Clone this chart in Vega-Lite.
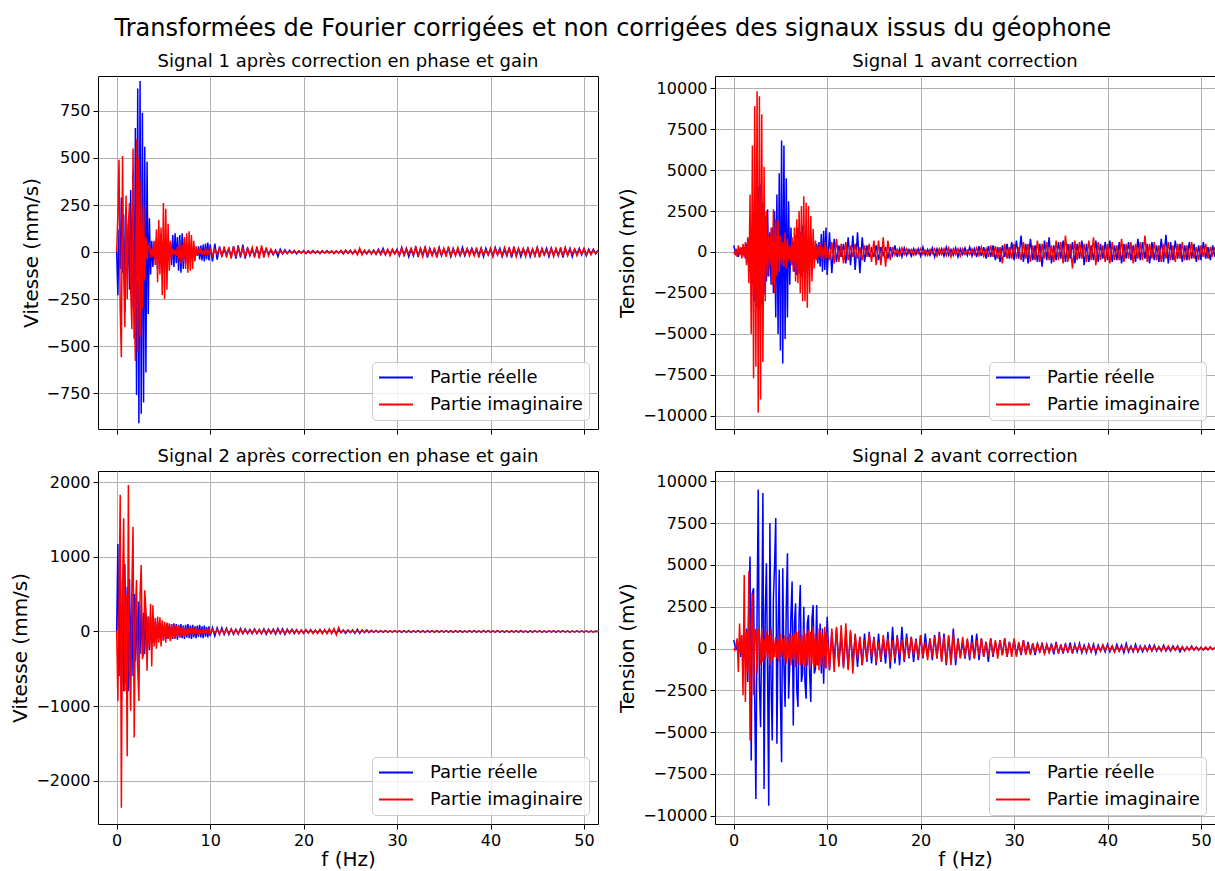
{
"$schema": "https://vega.github.io/schema/vega-lite/v6.json",
"background": "white",
"padding": {"left": 10, "top": 16, "right": 0, "bottom": 0},
"title": {"text": "Transformées de Fourier corrigées et non corrigées des signaux issus du géophone", "fontSize": 24, "font": "DejaVu Sans", "fontWeight": "normal", "anchor": "middle", "offset": 12, "color": "black"},
"datasets": {"fft": [
{"f":0,"ra":0,"ia":0,"rb":400,"ib":0,"rc":0,"ic":0,"rd":500,"id":0},
{"f":0.125,"ra":-230,"ia":200,"rb":100,"ib":-100,"rc":1170,"ic":-930,"rd":200,"id":-100},
{"f":0.25,"ra":120,"ia":490,"rb":-200,"ib":200,"rc":-600,"ic":300,"rd":-100,"id":200},
{"f":0.375,"ra":-90,"ia":-300,"rb":150,"ib":-300,"rc":800,"ic":1830,"rd":300,"id":600},
{"f":0.5,"ra":290,"ia":-560,"rb":-300,"ib":400,"rc":-900,"ic":-2360,"rd":-200,"id":-1400},
{"f":0.625,"ra":-110,"ia":510,"rb":200,"ib":-200,"rc":700,"ic":600,"rd":400,"id":1500},
{"f":0.75,"ra":200,"ia":-100,"rb":-100,"ib":300,"rc":-800,"ic":1515,"rd":-500,"id":-300},
{"f":0.875,"ra":-320,"ia":-400,"rb":250,"ib":-400,"rc":900,"ic":-800,"rd":300,"id":800},
{"f":1,"ra":240,"ia":300,"rb":-200,"ib":500,"rc":-700,"ic":500,"rd":-200,"id":-2800},
{"f":1.125,"ra":-120,"ia":-250,"rb":300,"ib":-300,"rc":600,"ic":-1670,"rd":600,"id":4400},
{"f":1.25,"ra":150,"ia":150,"rb":-400,"ib":600,"rc":-800,"ic":1960,"rd":-800,"id":-3200},
{"f":1.375,"ra":-200,"ia":260,"rb":500,"ib":-800,"rc":700,"ic":-500,"rd":1200,"id":1000},
{"f":1.5,"ra":330,"ia":-200,"rb":-600,"ib":900,"rc":-600,"ic":-1060,"rd":-2000,"id":-1500},
{"f":1.625,"ra":-300,"ia":-410,"rb":800,"ib":-1900,"rc":500,"ic":600,"rd":3000,"id":4600},
{"f":1.75,"ra":420,"ia":550,"rb":-1200,"ib":3500,"rc":-600,"ic":1400,"rd":5500,"id":-5500},
{"f":1.875,"ra":-460,"ia":-280,"rb":1500,"ib":-5000,"rc":500,"ic":-1420,"rd":-6700,"id":1500},
{"f":2,"ra":660,"ia":-580,"rb":-2000,"ib":6500,"rc":-400,"ic":300,"rd":3300,"id":3300},
{"f":2.125,"ra":-760,"ia":600,"rb":2500,"ib":-7700,"rc":400,"ic":690,"rd":3600,"id":-2800},
{"f":2.25,"ra":870,"ia":-530,"rb":-3000,"ib":8900,"rc":-500,"ic":-500,"rd":-3000,"id":1200},
{"f":2.375,"ra":-910,"ia":500,"rb":3300,"ib":-7000,"rc":400,"ic":-930,"rd":-9000,"id":1000},
{"f":2.5,"ra":910,"ia":-450,"rb":-3400,"ib":9800,"rc":-300,"ic":500,"rd":2000,"id":-1500},
{"f":2.625,"ra":-860,"ia":380,"rb":4000,"ib":-9800,"rc":350,"ic":890,"rd":9500,"id":1200},
{"f":2.75,"ra":740,"ia":-300,"rb":-3500,"ib":9500,"rc":-300,"ic":-370,"rd":-2000,"id":800},
{"f":2.875,"ra":-800,"ia":250,"rb":4100,"ib":-9000,"rc":250,"ic":-300,"rd":-4700,"id":-1000},
{"f":3,"ra":560,"ia":-150,"rb":-3200,"ib":8400,"rc":-300,"ic":550,"rd":1000,"id":1200},
{"f":3.125,"ra":-640,"ia":80,"rb":3000,"ib":-6700,"rc":250,"ic":300,"rd":9300,"id":-800},
{"f":3.25,"ra":480,"ia":-40,"rb":-2600,"ib":5200,"rc":-200,"ic":-525,"rd":-8400,"id":600},
{"f":3.375,"ra":-330,"ia":30,"rb":2200,"ib":-3000,"rc":200,"ic":200,"rd":2000,"id":-700},
{"f":3.5,"ra":180,"ia":40,"rb":-1800,"ib":2500,"rc":-250,"ic":-200,"rd":5100,"id":1000},
{"f":3.625,"ra":-120,"ia":-30,"rb":2600,"ib":-1500,"rc":200,"ic":370,"rd":-1500,"id":-600},
{"f":3.75,"ra":60,"ia":20,"rb":-1500,"ib":1000,"rc":-150,"ic":-470,"rd":-9400,"id":800},
{"f":3.875,"ra":-80,"ia":-25,"rb":1200,"ib":-800,"rc":180,"ic":350,"rd":7500,"id":-1000},
{"f":4,"ra":50,"ia":60,"rb":-2000,"ib":1500,"rc":-150,"ic":-200,"rd":-2000,"id":1200},
{"f":4.125,"ra":-40,"ia":-70,"rb":1500,"ib":-2000,"rc":120,"ic":180,"rd":-5500,"id":-700},
{"f":4.25,"ra":70,"ia":120,"rb":-2500,"ib":2600,"rc":-150,"ic":-230,"rd":3000,"id":600},
{"f":4.375,"ra":-90,"ia":-160,"rb":2500,"ib":-2500,"rc":130,"ic":200,"rd":5000,"id":-500},
{"f":4.5,"ra":60,"ia":170,"rb":-4000,"ib":2000,"rc":-100,"ic":-150,"rd":7800,"id":700},
{"f":4.625,"ra":-50,"ia":-120,"rb":3500,"ib":-1500,"rc":120,"ic":190,"rd":-5700,"id":-600},
{"f":4.75,"ra":100,"ia":130,"rb":-5000,"ib":1900,"rc":-110,"ic":-200,"rd":1000,"id":500},
{"f":4.875,"ra":-110,"ia":-230,"rb":4800,"ib":-1200,"rc":100,"ic":150,"rd":4700,"id":-800},
{"f":5,"ra":60,"ia":260,"rb":-6000,"ib":1000,"rc":-120,"ic":-120,"rd":-3000,"id":900},
{"f":5.125,"ra":-60,"ia":-250,"rb":6800,"ib":-800,"rc":90,"ic":130,"rd":-6800,"id":-500},
{"f":5.25,"ra":40,"ia":230,"rb":-6800,"ib":600,"rc":-100,"ic":-150,"rd":4800,"id":600},
{"f":5.375,"ra":-30,"ia":-200,"rb":6500,"ib":-900,"rc":110,"ic":120,"rd":-1000,"id":-700},
{"f":5.5,"ra":20,"ia":150,"rb":-5300,"ib":1200,"rc":-100,"ic":-100,"rd":-3500,"id":800},
{"f":5.625,"ra":-40,"ia":-100,"rb":4500,"ib":-1000,"rc":90,"ic":110,"rd":2500,"id":-900},
{"f":5.75,"ra":50,"ia":60,"rb":-4000,"ib":800,"rc":-110,"ic":-130,"rd":5700,"id":700},
{"f":5.875,"ra":-70,"ia":-30,"rb":3100,"ib":-500,"rc":100,"ic":100,"rd":-3000,"id":-600},
{"f":6,"ra":90,"ia":20,"rb":-2000,"ib":400,"rc":-100,"ic":-80,"rd":-1000,"id":900},
{"f":6.125,"ra":-80,"ia":-15,"rb":1500,"ib":-600,"rc":110,"ic":90,"rd":2000,"id":-1000},
{"f":6.25,"ra":100,"ia":10,"rb":-800,"ib":900,"rc":-90,"ic":-100,"rd":4000,"id":800},
{"f":6.375,"ra":-60,"ia":-20,"rb":600,"ib":-1200,"rc":100,"ic":80,"rd":-4600,"id":-700},
{"f":6.5,"ra":80,"ia":30,"rb":-1200,"ib":1500,"rc":-110,"ic":-70,"rd":1500,"id":900},
{"f":6.625,"ra":-100,"ia":-40,"rb":1000,"ib":-1800,"rc":90,"ic":75,"rd":2700,"id":-1100},
{"f":6.75,"ra":90,"ia":50,"rb":-1400,"ib":2000,"rc":-80,"ic":-80,"rd":-2500,"id":1000},
{"f":6.875,"ra":-110,"ia":-60,"rb":1500,"ib":-1900,"rc":100,"ic":60,"rd":-3500,"id":-900},
{"f":7,"ra":100,"ia":40,"rb":-1300,"ib":2500,"rc":-90,"ic":-55,"rd":2000,"id":1100},
{"f":7.125,"ra":-90,"ia":-50,"rb":1200,"ib":-2500,"rc":80,"ic":60,"rd":3800,"id":-1000},
{"f":7.25,"ra":70,"ia":80,"rb":-1500,"ib":2800,"rc":-100,"ic":-65,"rd":-2000,"id":800},
{"f":7.375,"ra":-60,"ia":-90,"rb":1600,"ib":-3000,"rc":90,"ic":50,"rd":-1500,"id":-900},
{"f":7.5,"ra":40,"ia":100,"rb":-1200,"ib":3400,"rc":-80,"ic":-45,"rd":2500,"id":1200},
{"f":7.625,"ra":-30,"ia":-110,"rb":1000,"ib":-3000,"rc":100,"ic":50,"rd":-2000,"id":-1100},
{"f":7.75,"ra":20,"ia":110,"rb":-800,"ib":3000,"rc":-90,"ic":-55,"rd":-3000,"id":900},
{"f":7.875,"ra":-25,"ia":-100,"rb":700,"ib":-3400,"rc":80,"ic":45,"rd":1500,"id":-1000},
{"f":8,"ra":15,"ia":90,"rb":-500,"ib":2800,"rc":-100,"ic":-40,"rd":2000,"id":1100},
{"f":8.125,"ra":-20,"ia":-90,"rb":400,"ib":-2500,"rc":90,"ic":45,"rd":-1500,"id":-1200},
{"f":8.25,"ra":25,"ia":60,"rb":-600,"ib":2200,"rc":-80,"ic":-50,"rd":-3200,"id":1000},
{"f":8.375,"ra":-15,"ia":-50,"rb":500,"ib":-1800,"rc":70,"ic":40,"rd":1800,"id":-900},
{"f":8.5,"ra":10,"ia":30,"rb":-300,"ib":1400,"rc":-90,"ic":-35,"rd":2600,"id":1300},
{"f":8.625,"ra":-20,"ia":-20,"rb":200,"ib":-1000,"rc":80,"ic":40,"rd":-1500,"id":-1100},
{"f":8.75,"ra":30,"ia":15,"rb":-400,"ib":700,"rc":-70,"ic":-45,"rd":-1200,"id":900},
{"f":8.875,"ra":-40,"ia":-10,"rb":500,"ib":-500,"rc":90,"ic":35,"rd":2600,"id":-1000},
{"f":9,"ra":35,"ia":20,"rb":-700,"ib":400,"rc":-80,"ic":-30,"rd":-1000,"id":1200},
{"f":9.125,"ra":-45,"ia":-15,"rb":600,"ib":-300,"rc":70,"ic":35,"rd":-800,"id":-1300},
{"f":9.25,"ra":40,"ia":10,"rb":-900,"ib":500,"rc":-90,"ic":-40,"rd":1500,"id":1100},
{"f":9.375,"ra":-50,"ia":-15,"rb":1100,"ib":-400,"rc":80,"ic":30,"rd":-1500,"id":-1000},
{"f":9.5,"ra":45,"ia":20,"rb":-1200,"ib":300,"rc":-70,"ic":-30,"rd":1200,"id":900},
{"f":9.625,"ra":-40,"ia":-15,"rb":1300,"ib":-500,"rc":60,"ic":35,"rd":-2100,"id":-1200},
{"f":9.75,"ra":50,"ia":10,"rb":-1100,"ib":600,"rc":-80,"ic":-35,"rd":1000,"id":1300},
{"f":9.875,"ra":-45,"ia":-10,"rb":1500,"ib":-400,"rc":70,"ic":30,"rd":-1200,"id":-1100},
{"f":10,"ra":40,"ia":15,"rb":-1400,"ib":300,"rc":-60,"ic":-25,"rd":1900,"id":1000},
{"f":10.25,"ra":-50,"ia":-20,"rb":1200,"ib":-500,"rc":50,"ic":30,"rd":-1300,"id":-1300},
{"f":10.5,"ra":45,"ia":15,"rb":-1300,"ib":600,"rc":-60,"ic":-25,"rd":1000,"id":1200},
{"f":10.75,"ra":-40,"ia":-10,"rb":800,"ib":-700,"rc":50,"ic":30,"rd":-800,"id":-1400},
{"f":11,"ra":30,"ia":20,"rb":-600,"ib":800,"rc":-40,"ic":-30,"rd":1200,"id":1300},
{"f":11.25,"ra":-20,"ia":-25,"rb":400,"ib":-600,"rc":50,"ic":25,"rd":-1000,"id":-1100},
{"f":11.5,"ra":15,"ia":30,"rb":-300,"ib":500,"rc":-40,"ic":-30,"rd":800,"id":1400},
{"f":11.75,"ra":-10,"ia":-30,"rb":500,"ib":-700,"rc":45,"ic":30,"rd":-1100,"id":-1200},
{"f":12,"ra":20,"ia":25,"rb":-700,"ib":600,"rc":-40,"ic":-25,"rd":900,"id":1500},
{"f":12.25,"ra":-25,"ia":-35,"rb":900,"ib":-500,"rc":35,"ic":30,"rd":-1200,"id":-1300},
{"f":12.5,"ra":30,"ia":30,"rb":-800,"ib":400,"rc":-40,"ic":-30,"rd":1000,"id":1100},
{"f":12.75,"ra":-35,"ia":-25,"rb":1000,"ib":-300,"rc":30,"ic":25,"rd":-900,"id":-1500},
{"f":13,"ra":35,"ia":20,"rb":-1100,"ib":500,"rc":-35,"ic":-25,"rd":800,"id":900},
{"f":13.25,"ra":-30,"ia":-15,"rb":1200,"ib":-400,"rc":40,"ic":30,"rd":-1100,"id":-600},
{"f":13.5,"ra":40,"ia":20,"rb":-1300,"ib":300,"rc":-30,"ic":-25,"rd":700,"id":700},
{"f":13.75,"ra":-35,"ia":-25,"rb":900,"ib":-500,"rc":35,"ic":20,"rd":-1000,"id":-1000},
{"f":14,"ra":25,"ia":20,"rb":-600,"ib":400,"rc":-30,"ic":-25,"rd":900,"id":500},
{"f":14.25,"ra":-20,"ia":-15,"rb":400,"ib":-300,"rc":25,"ic":25,"rd":-800,"id":-700},
{"f":14.5,"ra":15,"ia":25,"rb":-300,"ib":500,"rc":-30,"ic":-20,"rd":1000,"id":900},
{"f":14.75,"ra":-20,"ia":-30,"rb":200,"ib":-600,"rc":35,"ic":25,"rd":-900,"id":-500},
{"f":15,"ra":20,"ia":30,"rb":-300,"ib":700,"rc":-30,"ic":-25,"rd":700,"id":600},
{"f":15.25,"ra":-15,"ia":-35,"rb":400,"ib":-800,"rc":25,"ic":20,"rd":-1000,"id":-800},
{"f":15.5,"ra":20,"ia":35,"rb":-500,"ib":700,"rc":-30,"ic":-25,"rd":900,"id":400},
{"f":15.75,"ra":-10,"ia":-30,"rb":300,"ib":-800,"rc":35,"ic":25,"rd":-800,"id":-700},
{"f":16,"ra":15,"ia":25,"rb":-200,"ib":900,"rc":-40,"ic":-20,"rd":600,"id":800},
{"f":16.25,"ra":-10,"ia":-20,"rb":300,"ib":-900,"rc":30,"ic":25,"rd":-900,"id":-400},
{"f":16.5,"ra":10,"ia":15,"rb":-400,"ib":700,"rc":-25,"ic":-25,"rd":1000,"id":600},
{"f":16.75,"ra":-15,"ia":-10,"rb":300,"ib":-500,"rc":30,"ic":20,"rd":-1200,"id":-800},
{"f":17,"ra":10,"ia":8,"rb":-200,"ib":300,"rc":-35,"ic":-20,"rd":1300,"id":500},
{"f":17.25,"ra":-25,"ia":-6,"rb":400,"ib":-200,"rc":40,"ic":25,"rd":-900,"id":-600},
{"f":17.5,"ra":15,"ia":5,"rb":-300,"ib":150,"rc":-30,"ic":-20,"rd":800,"id":700},
{"f":17.75,"ra":-10,"ia":-8,"rb":200,"ib":-200,"rc":35,"ic":20,"rd":-1000,"id":-400},
{"f":18,"ra":12,"ia":6,"rb":-300,"ib":250,"rc":-40,"ic":-25,"rd":1300,"id":500},
{"f":18.25,"ra":-8,"ia":-5,"rb":250,"ib":-150,"rc":30,"ic":20,"rd":-800,"id":-700},
{"f":18.5,"ra":10,"ia":4,"rb":-200,"ib":200,"rc":-25,"ic":-20,"rd":900,"id":600},
{"f":18.75,"ra":-6,"ia":-6,"rb":150,"ib":-100,"rc":30,"ic":25,"rd":-600,"id":-500},
{"f":19,"ra":8,"ia":5,"rb":-250,"ib":150,"rc":-30,"ic":-20,"rd":700,"id":700},
{"f":19.25,"ra":-10,"ia":-4,"rb":200,"ib":-200,"rc":25,"ic":20,"rd":-800,"id":-400},
{"f":19.5,"ra":6,"ia":6,"rb":-150,"ib":150,"rc":-25,"ic":-25,"rd":600,"id":500},
{"f":19.75,"ra":-5,"ia":-5,"rb":200,"ib":-100,"rc":20,"ic":20,"rd":-700,"id":-600},
{"f":20,"ra":7,"ia":4,"rb":-250,"ib":200,"rc":-25,"ic":-20,"rd":800,"id":800},
{"f":20.25,"ra":-8,"ia":-6,"rb":300,"ib":-150,"rc":20,"ic":25,"rd":-600,"id":-500},
{"f":20.5,"ra":6,"ia":5,"rb":-200,"ib":100,"rc":-20,"ic":-20,"rd":900,"id":400},
{"f":20.75,"ra":-5,"ia":-7,"rb":150,"ib":-200,"rc":25,"ic":20,"rd":-500,"id":-700},
{"f":21,"ra":8,"ia":5,"rb":-200,"ib":150,"rc":-20,"ic":-25,"rd":600,"id":600},
{"f":21.25,"ra":-6,"ia":-4,"rb":250,"ib":-100,"rc":15,"ic":20,"rd":-700,"id":-500},
{"f":21.5,"ra":5,"ia":6,"rb":-300,"ib":200,"rc":-20,"ic":-25,"rd":800,"id":700},
{"f":21.75,"ra":-8,"ia":-5,"rb":200,"ib":-250,"rc":25,"ic":25,"rd":-600,"id":-600},
{"f":22,"ra":6,"ia":7,"rb":-150,"ib":200,"rc":-20,"ic":-30,"rd":1000,"id":900},
{"f":22.25,"ra":-5,"ia":-6,"rb":200,"ib":-150,"rc":15,"ic":25,"rd":-700,"id":-800},
{"f":22.5,"ra":8,"ia":5,"rb":-250,"ib":200,"rc":-20,"ic":-30,"rd":900,"id":700},
{"f":22.75,"ra":-6,"ia":-4,"rb":300,"ib":-200,"rc":20,"ic":35,"rd":-1000,"id":-900},
{"f":23,"ra":5,"ia":6,"rb":-200,"ib":250,"rc":-15,"ic":-30,"rd":700,"id":800},
{"f":23.25,"ra":-7,"ia":-8,"rb":150,"ib":-300,"rc":20,"ic":40,"rd":-800,"id":-1000},
{"f":23.5,"ra":6,"ia":5,"rb":-200,"ib":200,"rc":-25,"ic":-45,"rd":1200,"id":900},
{"f":23.75,"ra":-5,"ia":-6,"rb":250,"ib":-150,"rc":20,"ic":55,"rd":-1000,"id":-700},
{"f":24,"ra":7,"ia":8,"rb":-300,"ib":200,"rc":-15,"ic":-20,"rd":600,"id":500},
{"f":24.25,"ra":-10,"ia":-7,"rb":200,"ib":-250,"rc":20,"ic":15,"rd":-500,"id":-600},
{"f":24.5,"ra":8,"ia":10,"rb":-150,"ib":200,"rc":-25,"ic":-10,"rd":400,"id":700},
{"f":24.75,"ra":-6,"ia":-8,"rb":250,"ib":-150,"rc":20,"ic":12,"rd":-600,"id":-500},
{"f":25,"ra":10,"ia":6,"rb":-200,"ib":100,"rc":-15,"ic":-10,"rd":500,"id":600},
{"f":25.25,"ra":-8,"ia":-10,"rb":300,"ib":-150,"rc":20,"ic":12,"rd":-700,"id":-500},
{"f":25.5,"ra":6,"ia":12,"rb":-250,"ib":200,"rc":-25,"ic":-15,"rd":800,"id":400},
{"f":25.75,"ra":-10,"ia":-15,"rb":200,"ib":-150,"rc":30,"ic":12,"rd":-600,"id":-600},
{"f":26,"ra":12,"ia":20,"rb":-300,"ib":250,"rc":-25,"ic":-10,"rd":900,"id":500},
{"f":26.25,"ra":-8,"ia":-15,"rb":350,"ib":-200,"rc":20,"ic":12,"rd":-700,"id":-400},
{"f":26.5,"ra":6,"ia":10,"rb":-250,"ib":300,"rc":-15,"ic":-10,"rd":600,"id":600},
{"f":26.75,"ra":-10,"ia":-8,"rb":300,"ib":-250,"rc":20,"ic":8,"rd":-500,"id":-500},
{"f":27,"ra":8,"ia":10,"rb":-400,"ib":200,"rc":-15,"ic":-10,"rd":400,"id":400},
{"f":27.25,"ra":-6,"ia":-12,"rb":350,"ib":-300,"rc":15,"ic":12,"rd":-800,"id":-500},
{"f":27.5,"ra":10,"ia":8,"rb":-300,"ib":400,"rc":-10,"ic":-10,"rd":600,"id":600},
{"f":27.75,"ra":-12,"ia":-10,"rb":400,"ib":-300,"rc":15,"ic":8,"rd":-500,"id":-400},
{"f":28,"ra":15,"ia":12,"rb":-500,"ib":350,"rc":-10,"ic":-10,"rd":400,"id":500},
{"f":28.25,"ra":-10,"ia":-15,"rb":300,"ib":-400,"rc":12,"ic":12,"rd":-300,"id":-600},
{"f":28.5,"ra":20,"ia":10,"rb":-600,"ib":300,"rc":-10,"ic":-8,"rd":500,"id":500},
{"f":28.75,"ra":-15,"ia":-12,"rb":400,"ib":-700,"rc":12,"ic":10,"rd":-400,"id":-400},
{"f":29,"ra":10,"ia":15,"rb":-300,"ib":500,"rc":-10,"ic":-10,"rd":600,"id":600},
{"f":29.25,"ra":-8,"ia":-20,"rb":500,"ib":-400,"rc":8,"ic":8,"rd":-500,"id":-500},
{"f":29.5,"ra":12,"ia":15,"rb":-400,"ib":300,"rc":-10,"ic":-10,"rd":400,"id":400},
{"f":29.75,"ra":-10,"ia":-10,"rb":600,"ib":-400,"rc":12,"ic":12,"rd":-300,"id":-500},
{"f":30,"ra":15,"ia":12,"rb":-500,"ib":500,"rc":-10,"ic":-8,"rd":500,"id":600},
{"f":30.25,"ra":-20,"ia":-15,"rb":700,"ib":-400,"rc":8,"ic":8,"rd":-400,"id":-500},
{"f":30.5,"ra":25,"ia":20,"rb":-400,"ib":300,"rc":-12,"ic":-6,"rd":300,"id":400},
{"f":30.75,"ra":-15,"ia":-18,"rb":1000,"ib":-500,"rc":10,"ic":8,"rd":-400,"id":-300},
{"f":31,"ra":20,"ia":15,"rb":-600,"ib":600,"rc":-8,"ic":-8,"rd":500,"id":500},
{"f":31.25,"ra":-25,"ia":-10,"rb":500,"ib":-400,"rc":10,"ic":6,"rd":-300,"id":-400},
{"f":31.5,"ra":15,"ia":20,"rb":-700,"ib":500,"rc":-12,"ic":-8,"rd":400,"id":300},
{"f":31.75,"ra":-20,"ia":-15,"rb":800,"ib":-600,"rc":8,"ic":8,"rd":-300,"id":-400},
{"f":32,"ra":30,"ia":25,"rb":-500,"ib":400,"rc":-10,"ic":-6,"rd":300,"id":300},
{"f":32.25,"ra":-25,"ia":-20,"rb":400,"ib":-500,"rc":12,"ic":8,"rd":-400,"id":-250},
{"f":32.5,"ra":20,"ia":15,"rb":-600,"ib":700,"rc":-8,"ic":-8,"rd":300,"id":300},
{"f":32.75,"ra":-15,"ia":-25,"rb":500,"ib":-600,"rc":10,"ic":6,"rd":-250,"id":-200},
{"f":33,"ra":25,"ia":30,"rb":-900,"ib":500,"rc":-12,"ic":-8,"rd":350,"id":250},
{"f":33.25,"ra":-30,"ia":-20,"rb":700,"ib":-400,"rc":10,"ic":8,"rd":-300,"id":-300},
{"f":33.5,"ra":20,"ia":15,"rb":-500,"ib":600,"rc":-8,"ic":-6,"rd":250,"id":200},
{"f":33.75,"ra":-15,"ia":-20,"rb":900,"ib":-500,"rc":10,"ic":8,"rd":-200,"id":-250},
{"f":34,"ra":10,"ia":25,"rb":-700,"ib":400,"rc":-10,"ic":-8,"rd":300,"id":200},
{"f":34.25,"ra":-20,"ia":-30,"rb":400,"ib":-600,"rc":12,"ic":6,"rd":-350,"id":-150},
{"f":34.5,"ra":25,"ia":20,"rb":-500,"ib":700,"rc":-10,"ic":-8,"rd":400,"id":250},
{"f":34.75,"ra":-20,"ia":-15,"rb":600,"ib":-500,"rc":8,"ic":8,"rd":-300,"id":-200},
{"f":35,"ra":15,"ia":20,"rb":-400,"ib":600,"rc":-10,"ic":-6,"rd":250,"id":150},
{"f":35.25,"ra":-10,"ia":-25,"rb":700,"ib":-700,"rc":12,"ic":8,"rd":-300,"id":-200},
{"f":35.5,"ra":20,"ia":30,"rb":-600,"ib":1000,"rc":-8,"ic":-8,"rd":300,"id":250},
{"f":35.75,"ra":-25,"ia":-20,"rb":500,"ib":-600,"rc":10,"ic":6,"rd":-250,"id":-200},
{"f":36,"ra":20,"ia":15,"rb":-400,"ib":500,"rc":-12,"ic":-8,"rd":350,"id":150},
{"f":36.25,"ra":-15,"ia":-20,"rb":600,"ib":-1000,"rc":10,"ic":8,"rd":-300,"id":-200},
{"f":36.5,"ra":10,"ia":25,"rb":-700,"ib":700,"rc":-8,"ic":-6,"rd":250,"id":150},
{"f":36.75,"ra":-20,"ia":-15,"rb":500,"ib":-500,"rc":10,"ic":8,"rd":-200,"id":-100},
{"f":37,"ra":25,"ia":10,"rb":-400,"ib":600,"rc":-10,"ic":-8,"rd":300,"id":200},
{"f":37.25,"ra":-20,"ia":-15,"rb":700,"ib":-400,"rc":8,"ic":6,"rd":-250,"id":-150},
{"f":37.5,"ra":15,"ia":20,"rb":-800,"ib":500,"rc":-10,"ic":-8,"rd":200,"id":100},
{"f":37.75,"ra":-10,"ia":-20,"rb":500,"ib":-600,"rc":12,"ic":8,"rd":-250,"id":-150},
{"f":38,"ra":20,"ia":15,"rb":-600,"ib":700,"rc":-8,"ic":-6,"rd":250,"id":200},
{"f":38.25,"ra":-15,"ia":-20,"rb":400,"ib":-500,"rc":10,"ic":8,"rd":-200,"id":-150},
{"f":38.5,"ra":10,"ia":25,"rb":-500,"ib":900,"rc":-10,"ic":-8,"rd":250,"id":100},
{"f":38.75,"ra":-15,"ia":-30,"rb":700,"ib":-800,"rc":8,"ic":6,"rd":-300,"id":-150},
{"f":39,"ra":20,"ia":20,"rb":-600,"ib":600,"rc":-10,"ic":-8,"rd":200,"id":100},
{"f":39.25,"ra":-25,"ia":-15,"rb":500,"ib":-500,"rc":12,"ic":8,"rd":-150,"id":-150},
{"f":39.5,"ra":20,"ia":10,"rb":-400,"ib":400,"rc":-8,"ic":-6,"rd":200,"id":200},
{"f":39.75,"ra":-15,"ia":-15,"rb":600,"ib":-600,"rc":10,"ic":8,"rd":-200,"id":-100},
{"f":40,"ra":15,"ia":20,"rb":-500,"ib":500,"rc":-10,"ic":-8,"rd":250,"id":150},
{"f":40.25,"ra":-20,"ia":-25,"rb":700,"ib":-700,"rc":8,"ic":6,"rd":-200,"id":-100},
{"f":40.5,"ra":25,"ia":20,"rb":-600,"ib":600,"rc":-8,"ic":-6,"rd":150,"id":150},
{"f":40.75,"ra":-15,"ia":-15,"rb":400,"ib":-500,"rc":10,"ic":8,"rd":-200,"id":-200},
{"f":41,"ra":20,"ia":10,"rb":-500,"ib":400,"rc":-8,"ic":-6,"rd":250,"id":100},
{"f":41.25,"ra":-25,"ia":-20,"rb":600,"ib":-500,"rc":6,"ic":8,"rd":-150,"id":-150},
{"f":41.5,"ra":15,"ia":25,"rb":-700,"ib":800,"rc":-8,"ic":-6,"rd":200,"id":100},
{"f":41.75,"ra":-20,"ia":-15,"rb":500,"ib":-600,"rc":8,"ic":6,"rd":-250,"id":-100},
{"f":42,"ra":25,"ia":20,"rb":-400,"ib":500,"rc":-10,"ic":-8,"rd":300,"id":150},
{"f":42.25,"ra":-30,"ia":-20,"rb":600,"ib":-400,"rc":8,"ic":6,"rd":-200,"id":-100},
{"f":42.5,"ra":20,"ia":30,"rb":-500,"ib":600,"rc":-6,"ic":-8,"rd":150,"id":80},
{"f":42.75,"ra":-15,"ia":-25,"rb":400,"ib":-700,"rc":8,"ic":6,"rd":-200,"id":-120},
{"f":43,"ra":20,"ia":15,"rb":-600,"ib":500,"rc":-8,"ic":-6,"rd":250,"id":100},
{"f":43.25,"ra":-25,"ia":-10,"rb":800,"ib":-400,"rc":10,"ic":8,"rd":-200,"id":-150},
{"f":43.5,"ra":15,"ia":20,"rb":-500,"ib":600,"rc":-8,"ic":-6,"rd":150,"id":100},
{"f":43.75,"ra":-10,"ia":-25,"rb":600,"ib":-500,"rc":6,"ic":6,"rd":-200,"id":-80},
{"f":44,"ra":20,"ia":20,"rb":-400,"ib":1000,"rc":-8,"ic":-8,"rd":150,"id":120},
{"f":44.25,"ra":-25,"ia":-15,"rb":500,"ib":-600,"rc":8,"ic":6,"rd":-150,"id":-100},
{"f":44.5,"ra":15,"ia":15,"rb":-700,"ib":500,"rc":-10,"ic":-6,"rd":200,"id":80},
{"f":44.75,"ra":-20,"ia":-20,"rb":600,"ib":-400,"rc":8,"ic":8,"rd":-150,"id":-100},
{"f":45,"ra":25,"ia":25,"rb":-500,"ib":600,"rc":-6,"ic":-6,"rd":200,"id":120},
{"f":45.25,"ra":-20,"ia":-30,"rb":400,"ib":-500,"rc":8,"ic":6,"rd":-150,"id":-80},
{"f":45.5,"ra":15,"ia":20,"rb":-600,"ib":400,"rc":-8,"ic":-6,"rd":100,"id":100},
{"f":45.75,"ra":-15,"ia":-15,"rb":800,"ib":-600,"rc":6,"ic":6,"rd":-150,"id":-120},
{"f":46,"ra":20,"ia":10,"rb":-600,"ib":500,"rc":-8,"ic":-6,"rd":200,"id":100},
{"f":46.25,"ra":-25,"ia":-15,"rb":1050,"ib":-400,"rc":8,"ic":6,"rd":-150,"id":-80},
{"f":46.5,"ra":20,"ia":20,"rb":-700,"ib":600,"rc":-6,"ic":-6,"rd":100,"id":150},
{"f":46.75,"ra":-15,"ia":-25,"rb":600,"ib":-500,"rc":8,"ic":6,"rd":-150,"id":-100},
{"f":47,"ra":15,"ia":20,"rb":-500,"ib":400,"rc":-8,"ic":-6,"rd":150,"id":80},
{"f":47.25,"ra":-20,"ia":-15,"rb":700,"ib":-600,"rc":6,"ic":5,"rd":-100,"id":-100},
{"f":47.5,"ra":25,"ia":15,"rb":-400,"ib":500,"rc":-6,"ic":-6,"rd":150,"id":120},
{"f":47.75,"ra":-30,"ia":-20,"rb":500,"ib":-400,"rc":8,"ic":5,"rd":-200,"id":-80},
{"f":48,"ra":20,"ia":25,"rb":-600,"ib":600,"rc":-6,"ic":-6,"rd":100,"id":100},
{"f":48.25,"ra":-15,"ia":-20,"rb":400,"ib":-500,"rc":6,"ic":5,"rd":-150,"id":-120},
{"f":48.5,"ra":20,"ia":15,"rb":-500,"ib":400,"rc":-8,"ic":-6,"rd":100,"id":80},
{"f":48.75,"ra":-25,"ia":-10,"rb":600,"ib":-500,"rc":6,"ic":5,"rd":-100,"id":-100},
{"f":49,"ra":15,"ia":15,"rb":-400,"ib":600,"rc":-6,"ic":-5,"rd":150,"id":80},
{"f":49.25,"ra":-10,"ia":-20,"rb":500,"ib":-400,"rc":8,"ic":5,"rd":-100,"id":-60},
{"f":49.5,"ra":20,"ia":15,"rb":-600,"ib":300,"rc":-6,"ic":-6,"rd":80,"id":100},
{"f":49.75,"ra":-15,"ia":-10,"rb":400,"ib":-500,"rc":6,"ic":5,"rd":-100,"id":-80},
{"f":50,"ra":15,"ia":20,"rb":-500,"ib":400,"rc":-6,"ic":-5,"rd":80,"id":60},
{"f":50.25,"ra":-20,"ia":-15,"rb":600,"ib":-300,"rc":5,"ic":5,"rd":-100,"id":-80},
{"f":50.5,"ra":15,"ia":10,"rb":-400,"ib":500,"rc":-6,"ic":-5,"rd":60,"id":100},
{"f":50.75,"ra":-10,"ia":-15,"rb":300,"ib":-400,"rc":5,"ic":4,"rd":-80,"id":-60},
{"f":51,"ra":15,"ia":10,"rb":-500,"ib":300,"rc":-5,"ic":-5,"rd":100,"id":80},
{"f":51.25,"ra":-10,"ia":-8,"rb":400,"ib":-200,"rc":6,"ic":4,"rd":-60,"id":-60},
{"f":51.5,"ra":10,"ia":10,"rb":-300,"ib":300,"rc":-5,"ic":-4,"rd":80,"id":50}
]},
"data": {"name": "fft"},
"columns": 2,
"spacing": {"row": 42, "column": 117},
"bounds": "flush",
"resolve": {"scale": {"x": "independent", "y": "independent", "color": "independent"}, "legend": {"color": "independent"}},
"concat": [
{
 "width": 500, "height": 353,
 "title": "Signal 1 après correction en phase et gain",
 "layer": [
  {"mark": {"type": "line", "strokeWidth": 1.5, "clip": true},
   "encoding": {
    "x": {"field": "f", "type": "quantitative", "scale": {"domain": [-2, 51.5], "nice": false, "zero": false}, "axis": {"values": [0,10,20,30,40,50], "labels": false, "title": null}},
    "y": {"field": "ra", "type": "quantitative", "title": "Vitesse (mm/s)", "scale": {"domain": [-941, 936], "nice": false, "zero": false}, "axis": {"values": [-750,-500,-250,0,250,500,750], "format": "d"}},
    "color": {"datum": "Partie réelle", "type": "nominal", "scale": {"domain": ["Partie réelle", "Partie imaginaire"], "range": ["#0000ff", "#ff0000"]}, "legend": {"title": null}}
   }},
  {"mark": {"type": "line", "strokeWidth": 1.5, "clip": true},
   "encoding": {
    "x": {"field": "f", "type": "quantitative"},
    "y": {"field": "ia", "type": "quantitative", "title": "Vitesse (mm/s)"},
    "color": {"datum": "Partie imaginaire", "type": "nominal"}
   }}
 ]
},
{
 "width": 500, "height": 353,
 "title": "Signal 1 avant correction",
 "layer": [
  {"mark": {"type": "line", "strokeWidth": 1.5, "clip": true},
   "encoding": {
    "x": {"field": "f", "type": "quantitative", "scale": {"domain": [-2, 51.5], "nice": false, "zero": false}, "axis": {"values": [0,10,20,30,40,50], "labels": false, "title": null}},
    "y": {"field": "rb", "type": "quantitative", "title": "Tension (mV)", "scale": {"domain": [-10793, 10732], "nice": false, "zero": false}, "axis": {"values": [-10000,-7500,-5000,-2500,0,2500,5000,7500,10000], "format": "d"}},
    "color": {"datum": "Partie réelle", "type": "nominal", "scale": {"domain": ["Partie réelle", "Partie imaginaire"], "range": ["#0000ff", "#ff0000"]}, "legend": {"title": null}}
   }},
  {"mark": {"type": "line", "strokeWidth": 1.5, "clip": true},
   "encoding": {
    "x": {"field": "f", "type": "quantitative"},
    "y": {"field": "ib", "type": "quantitative", "title": "Tension (mV)"},
    "color": {"datum": "Partie imaginaire", "type": "nominal"}
   }}
 ]
},
{
 "width": 500, "height": 353,
 "title": "Signal 2 après correction en phase et gain",
 "layer": [
  {"mark": {"type": "line", "strokeWidth": 1.5, "clip": true},
   "encoding": {
    "x": {"field": "f", "type": "quantitative", "title": "f (Hz)", "scale": {"domain": [-2, 51.5], "nice": false, "zero": false}, "axis": {"values": [0,10,20,30,40,50], "titlePadding": 1}},
    "y": {"field": "rc", "type": "quantitative", "title": "Vitesse (mm/s)", "scale": {"domain": [-2577, 2148], "nice": false, "zero": false}, "axis": {"values": [-2000,-1000,0,1000,2000], "format": "d"}},
    "color": {"datum": "Partie réelle", "type": "nominal", "scale": {"domain": ["Partie réelle", "Partie imaginaire"], "range": ["#0000ff", "#ff0000"]}, "legend": {"title": null}}
   }},
  {"mark": {"type": "line", "strokeWidth": 1.5, "clip": true},
   "encoding": {
    "x": {"field": "f", "type": "quantitative", "title": "f (Hz)"},
    "y": {"field": "ic", "type": "quantitative", "title": "Vitesse (mm/s)"},
    "color": {"datum": "Partie imaginaire", "type": "nominal"}
   }}
 ]
},
{
 "width": 500, "height": 353,
 "title": "Signal 2 avant correction",
 "layer": [
  {"mark": {"type": "line", "strokeWidth": 1.5, "clip": true},
   "encoding": {
    "x": {"field": "f", "type": "quantitative", "title": "f (Hz)", "scale": {"domain": [-2, 51.5], "nice": false, "zero": false}, "axis": {"values": [0,10,20,30,40,50], "titlePadding": 1}},
    "y": {"field": "rd", "type": "quantitative", "title": "Tension (mV)", "scale": {"domain": [-10491, 10611], "nice": false, "zero": false}, "axis": {"values": [-10000,-7500,-5000,-2500,0,2500,5000,7500,10000], "format": "d"}},
    "color": {"datum": "Partie réelle", "type": "nominal", "scale": {"domain": ["Partie réelle", "Partie imaginaire"], "range": ["#0000ff", "#ff0000"]}, "legend": {"title": null}}
   }},
  {"mark": {"type": "line", "strokeWidth": 1.5, "clip": true},
   "encoding": {
    "x": {"field": "f", "type": "quantitative", "title": "f (Hz)"},
    "y": {"field": "id", "type": "quantitative", "title": "Tension (mV)"},
    "color": {"datum": "Partie imaginaire", "type": "nominal"}
   }}
 ]
}
],
"config": {
 "font": "DejaVu Sans",
 "view": {"stroke": "black", "strokeWidth": 1},
 "axis": {"domain": false, "grid": true, "gridColor": "#b0b0b0", "gridWidth": 1, "tickColor": "black", "tickSize": 5, "tickWidth": 1, "labelFontSize": 16, "labelColor": "black", "labelFont": "DejaVu Sans", "titleFont": "DejaVu Sans", "titleFontSize": 20, "titleFontWeight": "normal", "titleColor": "black", "labelPadding": 3, "titlePadding": 5},
 "title": {"fontSize": 18, "fontWeight": "normal", "font": "DejaVu Sans", "color": "black", "offset": 5},
 "legend": {"orient": "bottom-right", "offset": 9, "padding": 6, "fillColor": "rgba(255,255,255,0.8)", "strokeColor": "#cccccc", "cornerRadius": 4, "symbolType": "M-1,0H3", "symbolSize": 289, "symbolStrokeWidth": 2, "labelFontSize": 18, "labelFont": "DejaVu Sans", "labelColor": "black", "labelOffset": 33, "rowPadding": 8}
}
}
